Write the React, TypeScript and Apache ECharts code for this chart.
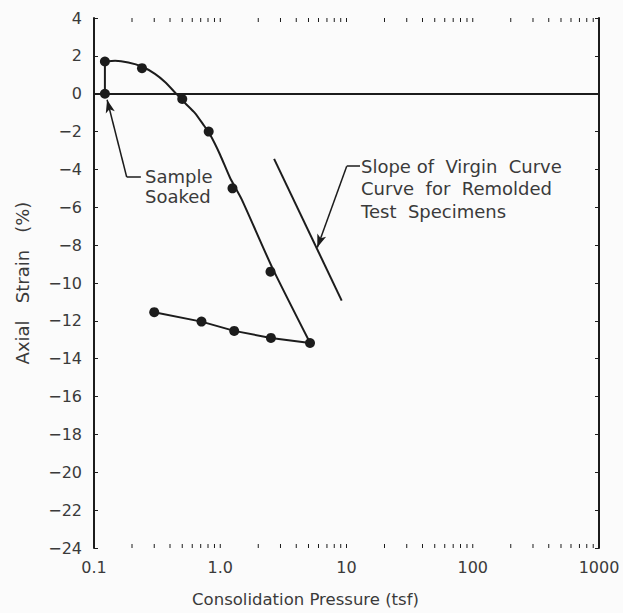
import React, { useEffect, useRef } from "react";
import * as echarts from "echarts";

// ---- data ----
const xTickLabels = ["0.1", "1.0", "10", "100", "1000"];
const yMin = -24;
const yMax = 4;

// initial swell at seating pressure (strain 0 -> +1.7)
const swellSegment: [number, number][] = [
  [0.122, 0],
  [0.122, 1.7],
];
// fitted virgin loading curve
const loadingCurve: [number, number][] = [
  [0.122, 1.7],
  [0.147, 1.74],
  [0.187, 1.65],
  [0.239, 1.44],
  [0.304, 1.05],
  [0.365, 0.62],
  [0.438, 0.07],
  [0.526, -0.49],
  [0.631, -1.02],
  [0.734, -1.63],
  [0.83, -2.16],
  [0.995, -3.21],
  [1.195, -4.44],
  [1.479, -5.58],
  [2.57, -9.16],
  [5.14, -13.16],
];
// measured loading points
const loadingPoints: [number, number][] = [
  [0.122, 0],
  [0.122, 1.7],
  [0.24, 1.35],
  [0.5, -0.28],
  [0.81, -2.0],
  [1.25, -5.0],
  [2.5, -9.4],
];
// unloading (rebound) points
const unloadingPoints: [number, number][] = [
  [5.14, -13.17],
  [2.52, -12.9],
  [1.29, -12.53],
  [0.71, -12.04],
  [0.3, -11.54],
];
// slope of virgin curve for remolded specimens
const slopeLine: [number, number][] = [
  [2.67, -3.44],
  [9.16, -10.93],
];
// leader lines: [text end, corner, arrow tip]
const soakedLeader: [number, number][] = [
  [0.235, -4.4],
  [0.1815, -4.4],
  [0.127, -0.32],
];
const slopeLeader: [number, number][] = [
  [12.8, -3.83],
  [10.04, -3.83],
  [5.87, -8.12],
];

const decades = [0.1, 1, 10, 100];
const minorTickValues: number[] = [];
decades.forEach((d) => {
  for (let k = 1; k <= 9; k++) minorTickValues.push(d * k);
});
minorTickValues.push(1000);

const INK = "#1c1c1c";
const TXT = "#3a3a3a";
const FONT = "DejaVu Sans";

export default function App() {
  const ref = useRef<HTMLDivElement>(null);

  useEffect(() => {
    if (!ref.current) return;
    const chart = echarts.init(ref.current, undefined, { renderer: "svg" });

    const leaderMark = (pts: [number, number][]) => [
      [
        { coord: pts[0], symbol: "none" },
        { coord: pts[1], symbol: "none" },
      ],
      [
        { coord: pts[1], symbol: "none" },
        { coord: pts[2], symbol: "arrow", symbolSize: [7, 13] },
      ],
    ];

    const option: any = {
      animation: false,
      backgroundColor: "#fbfbfb",
      textStyle: { fontFamily: FONT },
      grid: { left: 94, right: 24, top: 18, bottom: 63, containLabel: false },
      xAxis: [
        {
          type: "log",
          logBase: 10,
          min: 0.1,
          max: 1000,
          position: "bottom",
          name: "Consolidation Pressure (tsf)",
          nameLocation: "middle",
          nameGap: 43,
          nameTextStyle: {
            color: TXT,
            fontSize: 16.5,
            fontFamily: FONT,
            padding: [0, 82, 0, 0],
          },
          axisLine: { show: true, lineStyle: { color: INK, width: 2 } },
          axisTick: { show: false },
          splitLine: { show: false },
          axisLabel: {
            color: TXT,
            fontSize: 16,
            fontFamily: FONT,
            margin: 11,
            formatter: (v: number) => {
              const i = Math.round(Math.log10(v)) + 1;
              return xTickLabels[i] ?? "";
            },
          },
        },
        {
          type: "log",
          logBase: 10,
          min: 0.1,
          max: 1000,
          position: "top",
          axisLine: { show: true, lineStyle: { color: INK, width: 2 } },
          axisTick: { show: false },
          axisLabel: { show: false },
          splitLine: { show: false },
        },
      ],
      yAxis: [
        {
          type: "value",
          min: yMin,
          max: yMax,
          interval: 2,
          position: "left",
          name: "Axial   Strain   (%)",
          nameLocation: "middle",
          nameGap: 63,
          nameTextStyle: { color: TXT, fontSize: 18, fontFamily: FONT },
          axisLine: { show: true, lineStyle: { color: INK, width: 2 } },
          axisTick: { show: true, inside: true, length: 4, lineStyle: { color: INK, width: 1 } },
          splitLine: { show: false },
          axisLabel: {
            color: TXT,
            fontSize: 16,
            fontFamily: FONT,
            margin: 12,
            formatter: (v: number) => (v < 0 ? "\u2212" + Math.abs(v) : String(v)),
          },
        },
        {
          type: "value",
          min: yMin,
          max: yMax,
          interval: 2,
          position: "right",
          axisLine: { show: true, lineStyle: { color: INK, width: 2 } },
          axisTick: { show: true, inside: true, length: 4, lineStyle: { color: INK, width: 1 } },
          axisLabel: { show: false },
          splitLine: { show: false },
        },
      ],
      series: [
        {
          type: "custom",
          name: "minorTicks",
          xAxisIndex: 0,
          yAxisIndex: 0,
          silent: true,
          clip: false,
          data: minorTickValues.map((v) => [v, 0]),
          encode: { x: 0, y: 1 },
          renderItem: (params: any, api: any) => {
            const x = api.coord([api.value(0), 0])[0];
            const cs = params.coordSys;
            const bottom = cs.y + cs.height;
            return {
              type: "group",
              children: [
                {
                  type: "line",
                  shape: { x1: x, y1: bottom, x2: x, y2: bottom - 4 },
                  style: { stroke: INK, lineWidth: 1 },
                },
                {
                  type: "line",
                  shape: { x1: x, y1: cs.y, x2: x, y2: cs.y + 4 },
                  style: { stroke: INK, lineWidth: 1 },
                },
              ],
            };
          },
        },
        {
          type: "line",
          name: "swell",
          data: swellSegment,
          showSymbol: false,
          lineStyle: { color: INK, width: 2 },
          markLine: {
            silent: true,
            symbol: "none",
            label: { show: false },
            lineStyle: { color: INK, width: 2, type: "solid" },
            data: [{ yAxis: 0 }],
          },
        },
        {
          type: "line",
          name: "loading curve",
          data: loadingCurve,
          smooth: 0.2,
          showSymbol: false,
          lineStyle: { color: INK, width: 2 },
        },
        {
          type: "scatter",
          name: "loading points",
          data: loadingPoints,
          symbol: "circle",
          symbolSize: 10,
          itemStyle: { color: INK, opacity: 1 },
        },
        {
          type: "line",
          name: "unloading",
          data: unloadingPoints,
          symbol: "circle",
          symbolSize: 10,
          showSymbol: true,
          itemStyle: { color: INK, opacity: 1 },
          lineStyle: { color: INK, width: 2 },
        },
        {
          type: "line",
          name: "slope",
          data: slopeLine,
          showSymbol: false,
          lineStyle: { color: INK, width: 2 },
        },
        {
          type: "line",
          name: "leaders",
          data: [],
          markLine: {
            silent: true,
            label: { show: false },
            lineStyle: { color: INK, width: 1.5, type: "solid" },
            data: [...leaderMark(soakedLeader), ...leaderMark(slopeLeader)],
          },
        },
      ],
      graphic: [
        {
          type: "text",
          x: 145,
          y: 166,
          style: {
            text: "Sample\nSoaked",
            fill: TXT,
            font: `18px "${FONT}"`,
            lineHeight: 20,
            verticalAlign: "top",
          },
        },
        {
          type: "text",
          x: 361,
          y: 155,
          style: {
            text: "Slope of  Virgin  Curve\nCurve  for  Remolded\nTest  Specimens",
            fill: TXT,
            font: `18px "${FONT}"`,
            lineHeight: 22.5,
            verticalAlign: "top",
          },
        },
      ],
    };

    chart.setOption(option);
    return () => chart.dispose();
  }, []);

  return (
    <div
      ref={ref}
      style={{ position: "fixed", left: 0, top: 0, width: 623, height: 613 }}
    />
  );
}
